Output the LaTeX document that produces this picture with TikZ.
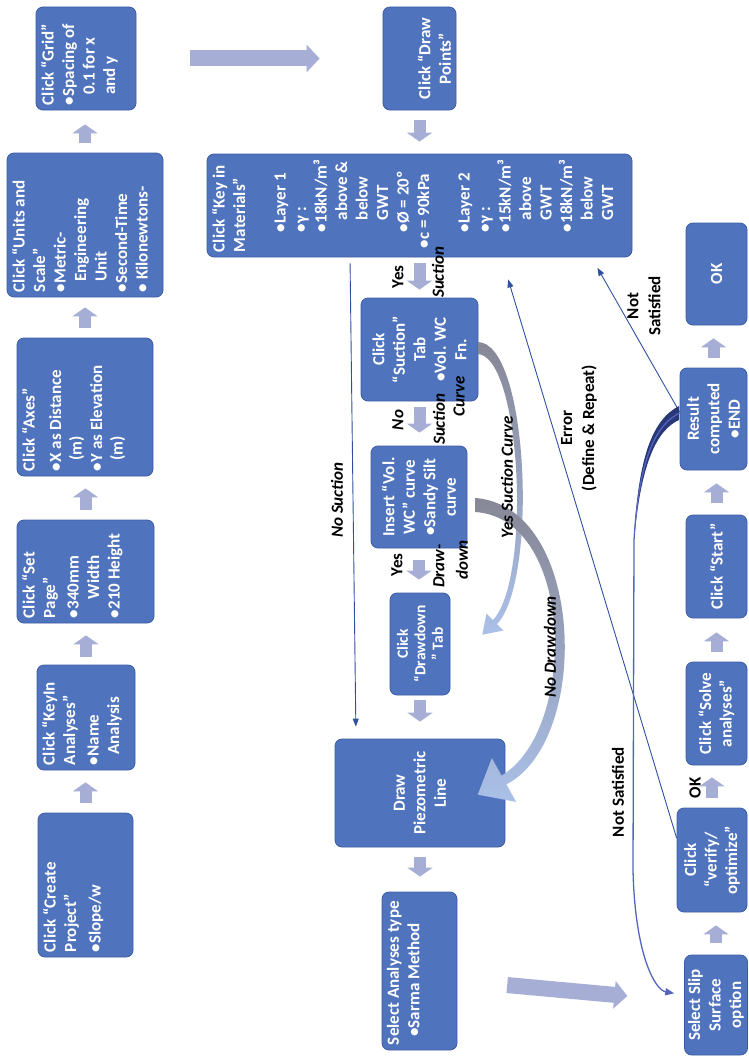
\documentclass[tikz,border=0pt]{standalone}
\usepackage{fontspec}
\setmainfont{Carlito}
\usetikzlibrary{arrows.meta,calc}
\definecolor{boxblue}{RGB}{80,115,190}
\definecolor{boxedge}{RGB}{62,92,165}
\definecolor{arrowc}{RGB}{166,174,214}
\definecolor{linec}{RGB}{50,80,160}
\definecolor{curvegray}{RGB}{135,135,150}
\definecolor{curveblue}{RGB}{170,192,232}
\definecolor{navy}{RGB}{40,55,120}
\definecolor{nscol}{RGB}{85,100,190}
\newcommand{\bxt}[4]{\parbox[c][#2pt][#3]{#1pt}{#4}}
\begin{document}
\begin{tikzpicture}[x=1pt,y=-1pt,
  bx/.style={rounded corners=7pt, fill=boxblue, draw=boxedge, line width=0.8pt, text=white, rotate=90, inner sep=5pt, font=\fontsize{17}{20.5}\selectfont\bfseries},
  lbl/.style={rotate=90, inner sep=0pt, align=center, font=\fontsize{17}{22}\selectfont\bfseries},
  ilbl/.style={lbl, font=\fontsize{17}{22}\selectfont\bfseries\itshape},
  smar/.style={draw=arrowc, line width=12pt, -{Triangle[length=9pt,width=25pt]}},
  bigar/.style={draw=arrowc, line width=16pt, -{Triangle[length=13pt,width=27pt]}},
  thinar/.style={draw=linec, line width=0.9pt, -{Triangle[length=8pt,width=6pt]}},
  nsar/.style={draw=nscol, line width=1.3pt, -{Triangle[length=9pt,width=7pt]}},
  band/.style={top color=curvegray, bottom color=curveblue, draw=none}
]
\useasboundingbox (0,0) rectangle (748,1057);
\fill[white] (0,0) rectangle (748,1057);

% ---------- column 1 ----------
\node[bx] (create) at (85.5,885) {\bxt{134}{85}{t}{\raggedright Click “Create\\ Project”\\[4pt] •Slope/w}};
\node[bx] (keyin) at (86,717.5) {\bxt{95}{88}{t}{\raggedright Click “KeyIn\\ Analyses”\\[3pt] •Name\\ \hspace*{0.6em}Analysis}};
\node[bx] (setpage) at (85.5,571.5) {\bxt{93}{127}{t}{\raggedright Click “Set\\ Page”\\[3pt] •340mm\\ \hspace*{1.1em}Width\\ •210 Height}};
\node[bx] (axes) at (85,407) {\bxt{128}{126}{t}{\raggedright Click “Axes”\\[6pt] •X as Distance\\ \hspace*{0.6em}(m)\\ •Y as Elevation\\ \hspace*{0.6em}(m)}};
\node[bx] (units) at (85,225) {\bxt{134}{146}{t}{\raggedright Click “Units and\\ Scale”\\ •Metric-\\ \hspace*{0.6em}Engineering\\ \hspace*{0.6em}Unit\\ •Second-Time\\ • Kilonewtons-}};
\node[bx] (grid) at (86,58.5) {\bxt{93}{90}{t}{\raggedright Click “Grid”\\ •Spacing of\\ \hspace*{0.6em}0.1 for x\\ \hspace*{0.6em}and y}};

% ---------- column 2 ----------
\node[bx] (drawpts) at (419.5,58.5) {\bxt{93}{63}{b}{\centering Click “Draw\\ Points”}};
\node[bx] (materials) at (419.5,205.5) {\bxt{93}{415}{t}{\raggedright Click “Key in\\ Materials”\\[20pt]
\hspace*{20pt}•Layer 1\\ \hspace*{20pt}•γ :\\ \hspace*{20pt}•18kN/m³\\ \hspace*{32pt}above \&\\ \hspace*{32pt}below\\ \hspace*{32pt}GWT\\
\hspace*{20pt}•Ø = 20º\\ \hspace*{4pt}\mbox{•c = 90kPa}\\[20pt]
\hspace*{20pt}•Layer 2\\ \hspace*{20pt}•γ :\\ \hspace*{20pt}•15kN/m³\\ \hspace*{32pt}above\\ \hspace*{32pt}GWT\\
\hspace*{20pt}•18kN/m³\\ \hspace*{32pt}below\\ \hspace*{32pt}GWT}};
\node[bx] (suction) at (419.5,349.5) {\bxt{93}{107}{c}{\centering Click\\ “Suction”\\ Tab\\ •Vol. WC\\ Fn.}};
\node[bx] (insert) at (419,497) {\bxt{92}{86}{c}{\centering Insert “Vol.\\ WC” curve\\ •Sandy Silt\\ curve}};
\node[bx] (ddtab) at (420,644) {\bxt{92}{50}{c}{\centering\fontsize{15.5}{17.5}\selectfont Click\\ “Drawdown\\ ” Tab}};
\node[bx] (piezo) at (420,793) {\bxt{98}{160}{c}{\centering Draw\\ Piezometric\\ Line}};
\node[bx] (sarma) at (419.5,971) {\bxt{148}{65}{t}{\raggedright Select Analyses type\\ \hspace*{0.5em}•Sarma Method}};

% ---------- bottom row (right column) ----------
\node[bx, inner ysep=3pt] (slip) at (716,1005) {\bxt{90}{57}{c}{\centering Select Slip\\ Surface\\ option}};
\node[bx] (verify) at (712,860) {\bxt{94}{60}{c}{\centering Click\\ “verify/\\ optimize”}};
\node[bx] (solve) at (716.5,713.5) {\bxt{93}{51}{c}{\centering Click “Solve\\ analyses”}};
\node[bx] (start) at (716.5,566.5) {\bxt{93}{51}{c}{\centering Click “Start”}};
\node[bx] (result) at (713.5,419) {\bxt{92}{57}{c}{\centering Result\\ computed\\ •END}};
\node[bx] (okbox) at (716.5,274) {\bxt{92}{51}{c}{\centering OK}};

% ---------- block arrows ----------
\draw[smar, shorten <=10pt, shorten >=12pt] (create.east) -- (create.east |- keyin.west);
\draw[smar, shorten <=8pt, shorten >=12pt] (keyin.east) -- (keyin.east |- setpage.west);
\draw[smar, shorten <=10pt, shorten >=12pt] (setpage.east) -- (setpage.east |- axes.west);
\draw[smar, shorten <=10pt, shorten >=10pt] (axes.east) -- (axes.east |- units.west);
\draw[smar, shorten <=10pt, shorten >=14pt] (units.east) -- (units.east |- grid.west);
\draw[bigar, shorten <=54pt, shorten >=63pt] (grid.south) -- (grid.south -| drawpts.north);
\draw[smar, shorten <=10pt, shorten >=12pt] (drawpts.west) -- (drawpts.west |- materials.east);
\draw[smar, shorten <=6pt, shorten >=8pt] (materials.west) -- (materials.west |- suction.east);
\draw[smar, shorten <=6pt, shorten >=13pt] (suction.west) -- (suction.west |- insert.east);
\draw[smar, shorten <=12pt, shorten >=13pt] (insert.west) -- (insert.west |- ddtab.east);
\draw[smar, shorten <=5pt, shorten >=17pt] (ddtab.west) -- (ddtab.west |- piezo.east);
\draw[smar, shorten <=10pt, shorten >=15pt] (piezo.west) -- (piezo.west |- sarma.east);
\draw[bigar, shorten <=50pt, shorten >=57pt] ([yshift=-9.5pt]sarma.south) -- ([yshift=3.8pt]slip.north);
\draw[smar, shorten <=12pt, shorten >=13pt] (slip.east) -- (slip.east |- verify.west);
\draw[smar, shorten <=10pt, shorten >=12pt] (verify.east) -- (verify.east |- solve.west);
\draw[smar, shorten <=10pt, shorten >=14pt] (solve.east) -- (solve.east |- start.west);
\draw[smar, shorten <=12pt, shorten >=13pt] (start.east) -- (start.east |- result.west);
\draw[smar, shorten <=10pt, shorten >=13pt] (result.east) -- (result.east |- okbox.west);

% ---------- curved band arrows ----------
% Yes Suction Curve
\path[band] (478,342) .. controls (529,343) and (538,582) .. (497,624) -- (503.5,630.5) -- (482.3,634.7) -- (486.5,613.5) -- (493,620) .. controls (532,578) and (521,357) .. (478,354) -- cycle;
% No Drawdown
\path[band] (475,498) .. controls (585,506) and (592,740) .. (506.4,784.4) -- (516.2,801.9) -- (477.8,794.6) -- (491.8,758.1) -- (501.6,775.6) .. controls (578,730) and (575,518) .. (475,512) -- cycle;

% ---------- thin connectors ----------
\draw[thinar, shorten <=6pt, shorten >=12pt] ([xshift=-69.5pt]materials.west) -- ([xshift=-64pt]piezo.east);
\draw[thinar, shorten >=23pt] ([yshift=22pt]verify.north) -- ([xshift=82pt]materials.west);
\draw[thinar, shorten >=12pt] ([yshift=7pt]result.north) -- ([xshift=172pt]materials.west);
\fill[navy] (679,406) .. controls (652,420) and (638,458) .. (634,540) .. controls (641,462) and (657,430) .. (679,420) -- cycle;
\draw[nsar, shorten >=10pt] ([yshift=6pt]result.north) .. controls (655,425) and (639,460) .. (634,540) -- (633,870) .. controls (635,955) and (655,990) .. ([yshift=10pt]slip.north);

% ---------- labels ----------
\node[ilbl] (lnosuc) at (337,500) {No Suction};
\node[lbl] (lyes1) at (398,277) {Yes};
\node[ilbl] (lsuc1) at (438,272) {Suction};
\node[ilbl] (lno2) at (398,420) {No};
\node[ilbl] (lsuc2) at (439,419) {Suction};
\node[ilbl] (lcurve) at (459,396) {Curve};
\node[lbl] (lyes2) at (397,565) {Yes};
\node[ilbl] (ldraw) at (439,566) {Draw-};
\node[ilbl] (ldown) at (462,560) {down};
\node[ilbl] (lysc) at (507,477) {Yes Suction Curve};
\node[ilbl] (lnodd) at (550,647) {No Drawdown};
\node[lbl] (lerr) at (579,428) {Error\\(Define \& Repeat)};
\node[lbl] (lns1) at (644,306) {Not\\Satisfied};
\node[lbl] (lns2) at (618,792) {Not Satisfied};
\node[lbl] (lok) at (695,788) {OK};
\end{tikzpicture}
\end{document}
